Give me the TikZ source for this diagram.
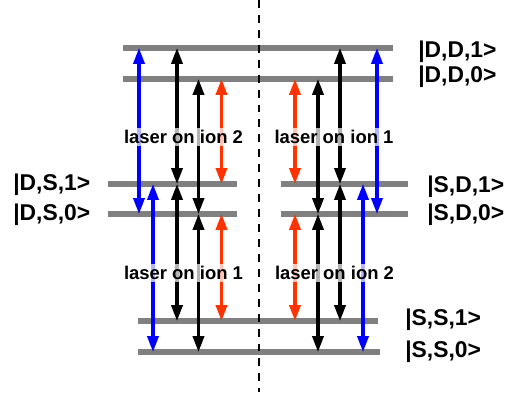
\documentclass[tikz,border=0pt]{standalone}
\usepackage{fontspec}
\setmainfont{Liberation Sans}
\usetikzlibrary{
  arrows.meta,   % Triangle 箭头
  positioning    % 节点相对定位
}
\definecolor{levelgray}{RGB}{128,128,128}
\definecolor{laserred}{RGB}{255,51,0}
\tikzset{
  level line/.style={
    draw=levelgray,
    line width=2.9pt
  },
  trans/.style={
    {Triangle[length=9pt,width=6.3pt]}-{Triangle[length=9pt,width=6.3pt]},
    line width=1.8pt
  },
  blue trans/.style={trans, color=blue},
  black trans/.style={trans, color=black},
  red trans/.style={trans, color=laserred},
  laser label/.style={
    font=\fontsize{10.5}{12}\selectfont\bfseries,
    fill=white,
    fill opacity=0.7,
    text opacity=1,
    inner sep=1pt
  },
  state label/.style={
    font=\fontsize{13}{15}\selectfont\bfseries,
    anchor=west,
    inner sep=0pt
  }
}

\begin{document}
\begin{tikzpicture}
    \useasboundingbox (0,0) rectangle (10.18,7.84);

    % 1. 能级 (灰色横线)
    \coordinate (DD1l) at (2.46,6.88); \coordinate (DD1r) at (7.86,6.88);
    \coordinate (DD0l) at (2.46,6.26); \coordinate (DD0r) at (7.86,6.26);
    \coordinate (DS1l) at (2.16,4.16); \coordinate (DS1r) at (4.74,4.16);
    \coordinate (DS0l) at (2.16,3.56); \coordinate (DS0r) at (4.74,3.56);
    \coordinate (SD1l) at (5.62,4.16); \coordinate (SD1r) at (8.16,4.16);
    \coordinate (SD0l) at (5.62,3.56); \coordinate (SD0r) at (8.16,3.56);
    \coordinate (SS1l) at (2.76,1.42); \coordinate (SS1r) at (7.56,1.42);
    \coordinate (SS0l) at (2.76,0.80); \coordinate (SS0r) at (7.60,0.80);
    \foreach \lv in {DD1,DD0,DS1,DS0,SD1,SD0,SS1,SS0}
      \draw[level line] (\lv l) -- (\lv r);

    % 2. 中间虚线
    \coordinate (midtop) at (5.18,7.84);
    \coordinate (midbot) at (5.18,0);
    \draw[black, line width=1.1pt, dash pattern=on 4.5pt off 4pt] (midtop) -- (midbot);

    % 3. 跃迁 (左上: laser on ion 2)
    \draw[blue trans]  (2.78,0 |- DD1l) -- (2.78,0 |- DS0l);
    \draw[black trans] (3.54,0 |- DD1l) -- (3.54,0 |- DS1l);
    \draw[black trans] (3.97,0 |- DD0l) -- (3.97,0 |- DS0l);
    \draw[red trans]   (4.43,0 |- DD0l) -- (4.43,0 |- DS1l);

    % 左下: laser on ion 1
    \draw[blue trans]  (3.06,0 |- DS1l) -- (3.06,0 |- SS0l);
    \draw[black trans] (3.54,0 |- DS1l) -- (3.54,0 |- SS1l);
    \draw[black trans] (3.97,0 |- DS0l) -- (3.97,0 |- SS0l);
    \draw[red trans]   (4.43,0 |- DS0l) -- (4.43,0 |- SS1l);

    % 右上: laser on ion 1
    \draw[red trans]   (5.90,0 |- DD0l) -- (5.90,0 |- SD1l);
    \draw[black trans] (6.36,0 |- DD0l) -- (6.36,0 |- SD0l);
    \draw[black trans] (6.80,0 |- DD1l) -- (6.80,0 |- SD1l);
    \draw[blue trans]  (7.54,0 |- DD1l) -- (7.54,0 |- SD0l);

    % 右下: laser on ion 2
    \draw[red trans]   (5.90,0 |- SD0l) -- (5.90,0 |- SS1l);
    \draw[black trans] (6.36,0 |- SD0l) -- (6.36,0 |- SS0l);
    \draw[black trans] (6.80,0 |- SD1l) -- (6.80,0 |- SS1l);
    \draw[blue trans]  (7.26,0 |- SD1l) -- (7.26,0 |- SS0l);

    % 4. 激光标注
    \node[laser label] (ul) at (3.67,5.10) {laser on ion 2};
    \node[laser label] (ur) at (6.68,5.10) {laser on ion 1};
    \node[laser label] (ll) at (3.67,2.38) {laser on ion 1};
    \node[laser label] (lr) at (6.69,2.38) {laser on ion 2};

    % 5. 态标注
    \node[state label] (tDD1) at (8.36,6.80) {|D,D,1>};
    \node[state label] (tDD0) at (8.36,6.30) {|D,D,0>};
    \node[state label] (tSD1) at (8.54,4.10) {|S,D,1>};
    \node[state label] (tSD0) at (8.54,3.54) {|S,D,0>};
    \node[state label] (tSS1) at (8.10,1.44) {|S,S,1>};
    \node[state label] (tSS0) at (8.10,0.80) {|S,S,0>};
    \node[state label] (tDS1) at (0.26,4.14) {|D,S,1>};
    \node[state label] (tDS0) at (0.26,3.54) {|D,S,0>};

  \end{tikzpicture}
\end{document}
